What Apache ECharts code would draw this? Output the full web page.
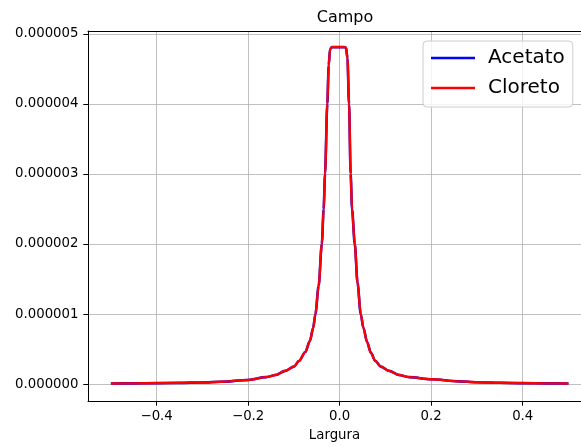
<!DOCTYPE html>
<html>
<head>
<meta charset="utf-8">
<script src="https://cdn.jsdelivr.net/npm/echarts@6/dist/echarts.min.js"></script>
<style>html,body{margin:0;padding:0;background:#fff}#c{width:581px;height:447px}</style>
</head>
<body>
<div id="c"></div>
<script>
var xs = [-0.5,-0.45,-0.4,-0.35,-0.3,-0.26,-0.2,-0.161,-0.14,-0.119,-0.1,-0.089,-0.075,-0.065,-0.058,-0.053,-0.046,-0.039,-0.035,-0.032,-0.027,-0.024,-0.021,-0.017,-0.01,0,0.01,0.014,0.017,0.0205,0.024,0.027,0.033,0.039,0.046,0.052,0.06,0.068,0.078,0.09,0.108,0.13,0.152,0.2,0.26,0.3,0.35,0.4,0.45,0.5];
var acetato = [0.010e-6,0.012e-6,0.015e-6,0.019e-6,0.025e-6,0.035e-6,0.060e-6,0.10e-6,0.13e-6,0.19e-6,0.25e-6,0.33e-6,0.46e-6,0.62e-6,0.80e-6,1.00e-6,1.40e-6,2.00e-6,2.50e-6,3.00e-6,4.00e-6,4.55e-6,4.78e-6,4.81e-6,4.81e-6,4.81e-6,4.81e-6,4.80e-6,4.65e-6,4.00e-6,3.00e-6,2.50e-6,2.00e-6,1.45e-6,1.00e-6,0.80e-6,0.60e-6,0.45e-6,0.33e-6,0.25e-6,0.19e-6,0.13e-6,0.10e-6,0.070e-6,0.040e-6,0.028e-6,0.020e-6,0.015e-6,0.012e-6,0.010e-6];
var cloreto = [0.010e-6,0.012e-6,0.015e-6,0.019e-6,0.025e-6,0.035e-6,0.060e-6,0.10e-6,0.13e-6,0.19e-6,0.25e-6,0.33e-6,0.46e-6,0.62e-6,0.80e-6,1.00e-6,1.40e-6,2.00e-6,2.50e-6,3.00e-6,4.00e-6,4.55e-6,4.78e-6,4.81e-6,4.81e-6,4.81e-6,4.81e-6,4.80e-6,4.65e-6,4.00e-6,3.00e-6,2.50e-6,2.00e-6,1.45e-6,1.00e-6,0.80e-6,0.60e-6,0.45e-6,0.33e-6,0.25e-6,0.19e-6,0.13e-6,0.10e-6,0.070e-6,0.040e-6,0.028e-6,0.020e-6,0.015e-6,0.012e-6,0.010e-6];
var xTicks = [-0.4,-0.2,0,0.2,0.4];
var yTicks = [0,1e-6,2e-6,3e-6,4e-6,5e-6];

function pairs(ys){ return xs.map(function(x,i){ return [x, ys[i]]; }); }
var font = 'DejaVu Sans';
var chart = echarts.init(document.getElementById('c'), null, {renderer:'canvas'});
chart.setOption({
  animation:false,
  backgroundColor:'#fff',
  title:{text:'Campo', left:340, top:5, textAlign:'center',
    textStyle:{fontFamily:font, fontSize:16, fontWeight:'normal', color:'#000'}},
  legend:{
    left:423, top:41, orient:'vertical',
    padding:[7,8,9,8], itemGap:10, itemWidth:44, itemHeight:2.5,
    icon:'rect',
    backgroundColor:'rgba(255,255,255,0.8)', borderColor:'#cccccc', borderWidth:1, borderRadius:4,
    textStyle:{fontFamily:font, fontSize:20, color:'#000', padding:[0,0,0,8]},
    data:['Acetato','Cloreto']
  },
  grid:{left:88, right:0, top:31, bottom:43.5, show:false, containLabel:false},
  xAxis:[{
    type:'value', min:-0.55, max:0.5274,
    name:'Largura', nameLocation:'middle', nameGap:28,
    nameTextStyle:{fontFamily:font, fontSize:13.3, color:'#000'},
    axisLine:{show:true, onZero:false, lineStyle:{color:'#000', width:1}},
    axisTick:{show:true, length:4.7, lineStyle:{color:'#000'}, customValues:xTicks},
    axisLabel:{fontFamily:font, fontSize:13.3, color:'#000', margin:9, customValues:xTicks,
      formatter:function(v){ return v.toFixed(1).replace('-', '\u2212'); }},
    splitLine:{show:true, lineStyle:{color:'#b0b0b0', width:0.8}}
  },{
    type:'value', position:'top', min:-0.55, max:0.5274,
    axisLine:{show:true, onZero:false, lineStyle:{color:'#000', width:1}},
    axisTick:{show:false}, axisLabel:{show:false}, splitLine:{show:false}
  }],
  yAxis:{
    type:'value', min:-0.24e-6, max:5.04e-6,
    axisLine:{show:true, onZero:false, lineStyle:{color:'#000', width:1}},
    axisTick:{show:true, length:4.7, lineStyle:{color:'#000'}, customValues:yTicks},
    axisLabel:{fontFamily:font, fontSize:13.3, color:'#000', margin:9.5, customValues:yTicks,
      formatter:function(v){ return Math.abs(v) < 1e-12 ? '0.000000' : v.toFixed(6); }},
    splitLine:{show:true, lineStyle:{color:'#b0b0b0', width:0.8}}
  },
  series:[
    {name:'Acetato', type:'line', data:pairs(acetato), showSymbol:false, symbol:'none',
      smooth:0.3, smoothMonotone:'x', lineStyle:{color:'#0000ff', width:2.6}, itemStyle:{color:'#0000ff'}},
    {name:'Cloreto', type:'line', data:pairs(cloreto), showSymbol:false, symbol:'none',
      smooth:0.3, smoothMonotone:'x', lineStyle:{color:'#ff0000', width:2.4}, itemStyle:{color:'#ff0000'}}
  ]
});
</script>
</body>
</html>
